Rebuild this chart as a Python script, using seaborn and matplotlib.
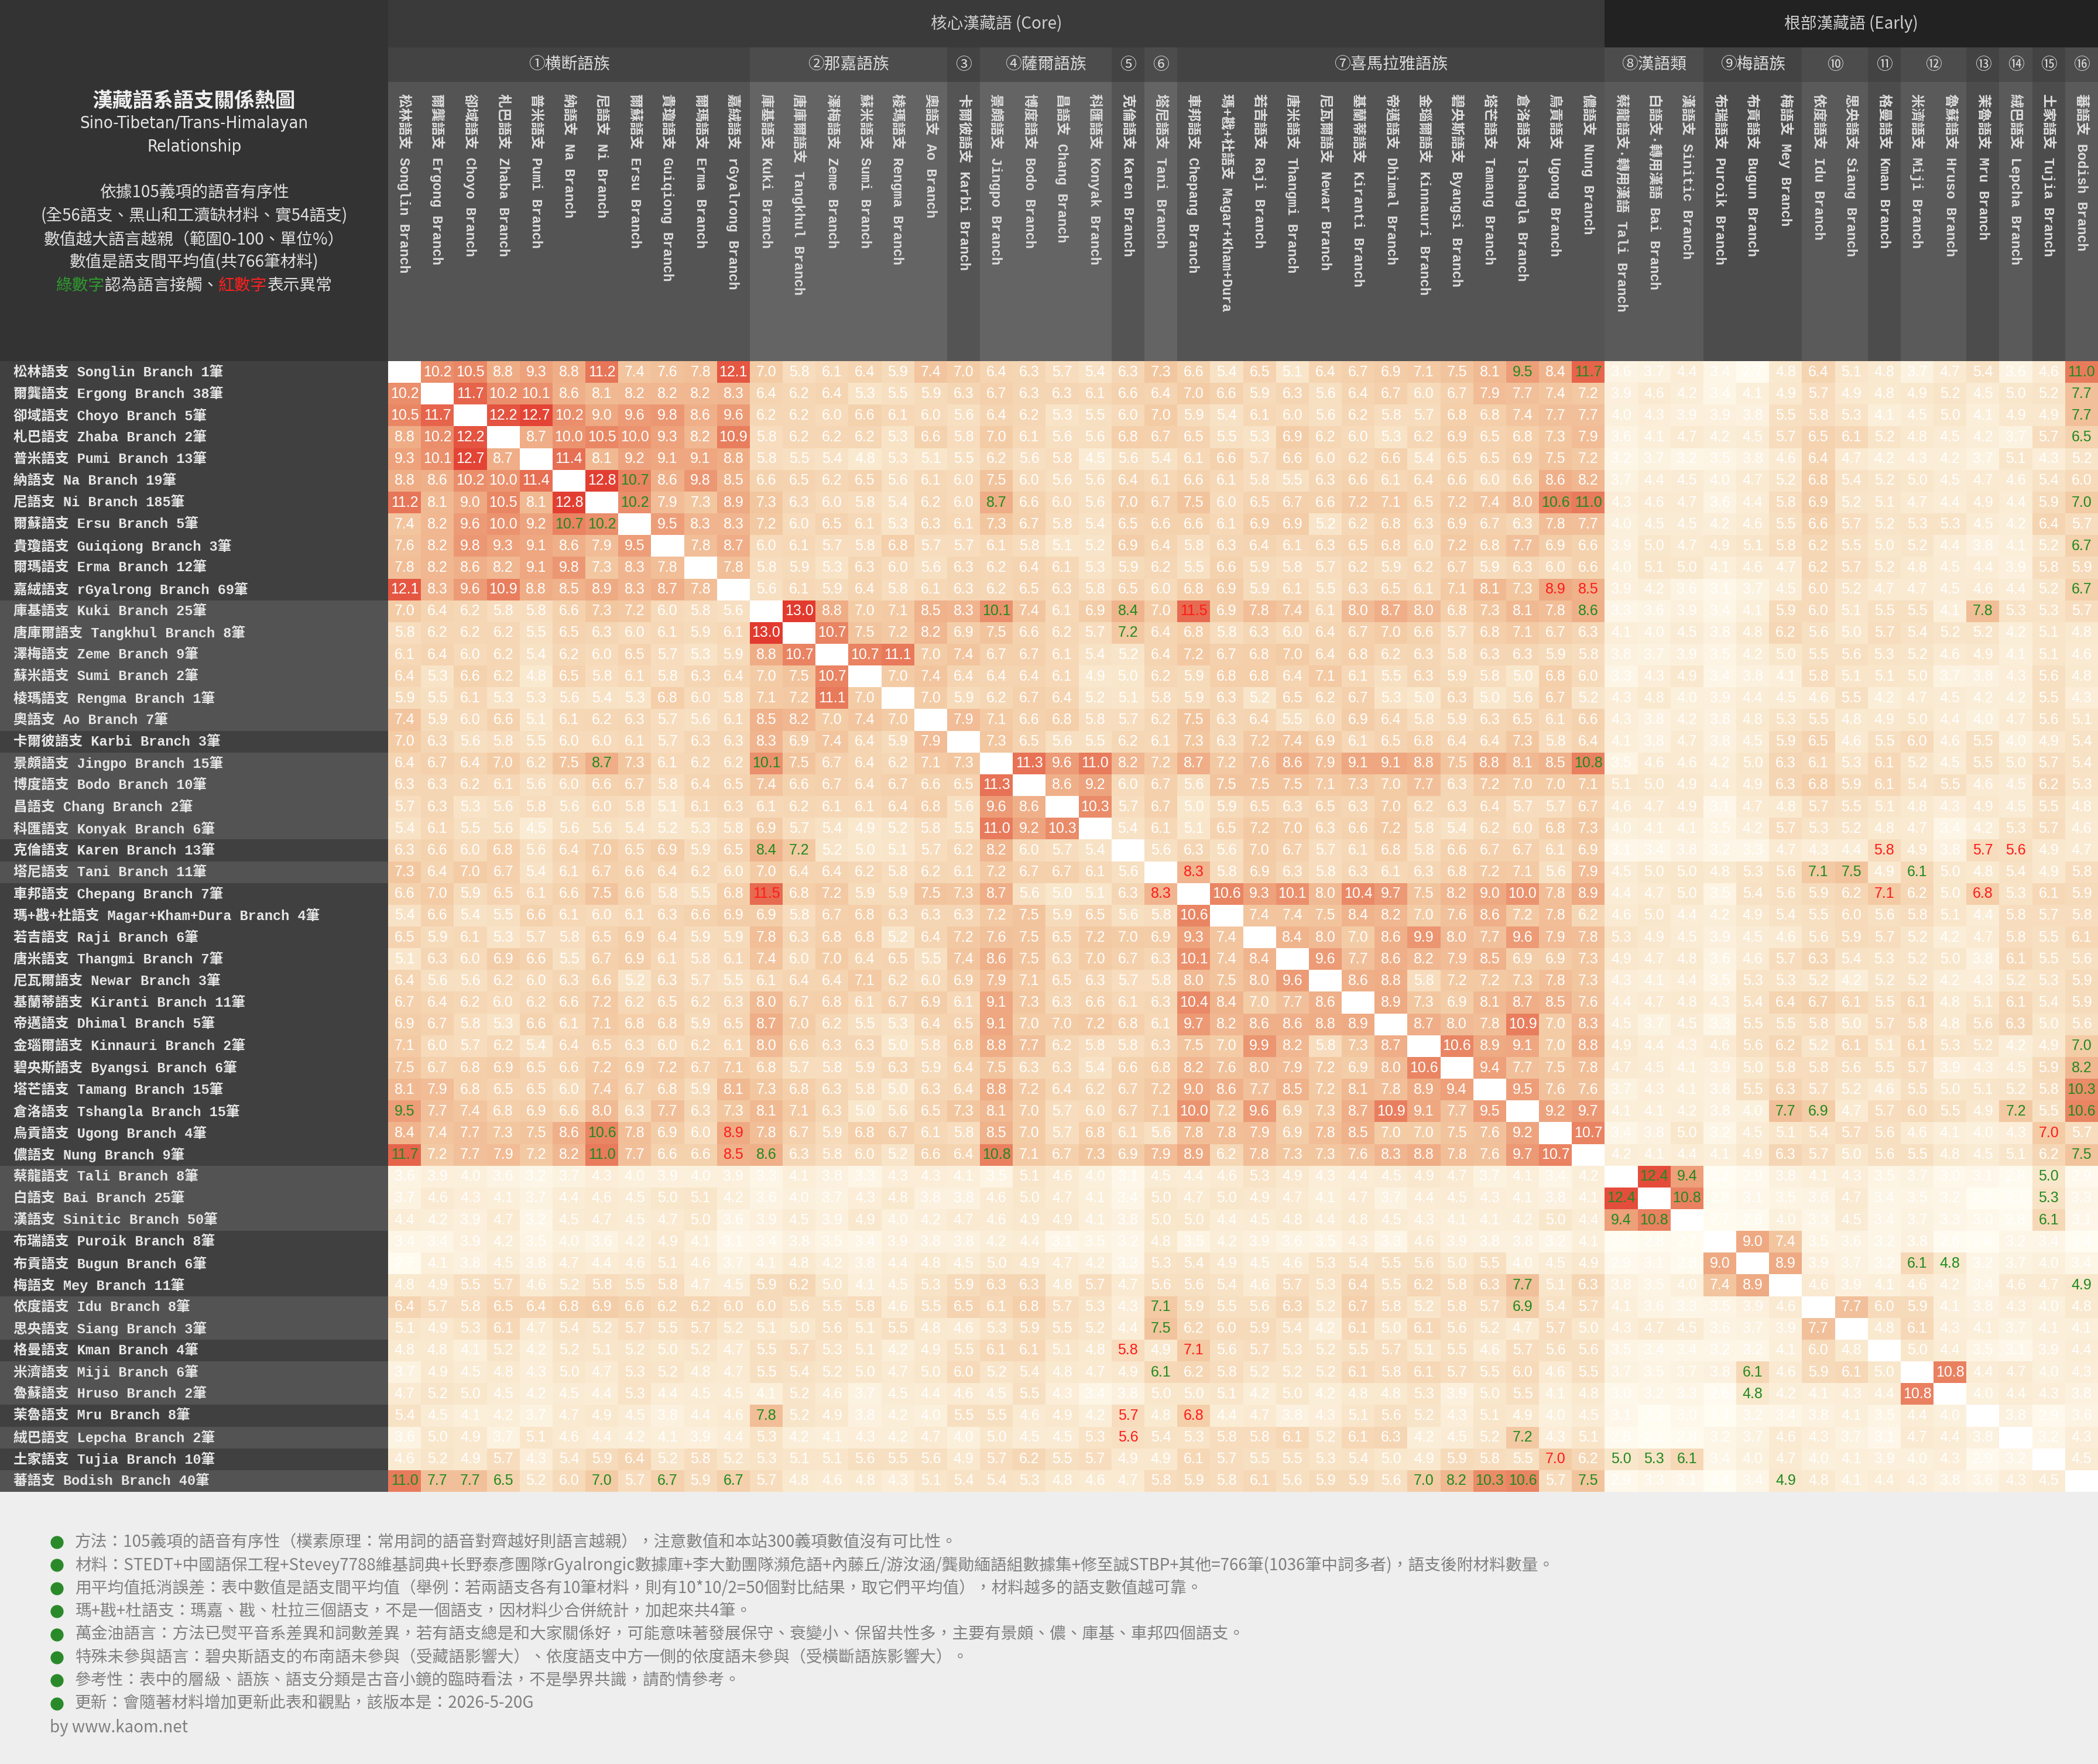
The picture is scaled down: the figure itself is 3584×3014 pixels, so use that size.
import numpy as np
import matplotlib
matplotlib.use("Agg")
import matplotlib.pyplot as plt
from matplotlib.colors import LinearSegmentedColormap
from matplotlib.patches import Rectangle
import seaborn as sns

# ---- data -------------------------------------------------------------
branch_zh = ['松林語支', '爾龔語支', '卻域語支', '札巴語支', '普米語支', '納語支', '尼語支',
             '爾蘇語支', '貴瓊語支', '爾瑪語支', '嘉絨語支',
             '庫基語支', '唐庫爾語支', '澤梅語支', '蘇米語支', '棱瑪語支', '奧語支',
             '卡爾彼語支',
             '景頗語支', '博度語支', '昌語支', '科匯語支',
             '克倫語支', '塔尼語支',
             '車邦語支', '瑪+戡+杜語支', '若吉語支', '唐米語支', '尼瓦爾語支', '基蘭蒂語支',
             '帝邁語支', '金瑙爾語支', '碧央斯語支', '塔芒語支', '倉洛語支', '烏貢語支', '儂語支',
             '蔡龍語支', '白語支', '漢語支',
             '布瑞語支', '布貢語支', '梅語支',
             '依度語支', '思央語支', '格曼語支', '米濟語支', '魯蘇語支', '茉魯語支',
             '絨巴語支', '土家語支', '蕃語支']
branch_en = ['Songlin', 'Ergong', 'Choyo', 'Zhaba', 'Pumi', 'Na', 'Ni', 'Ersu', 'Guiqiong',
             'Erma', 'rGyalrong', 'Kuki', 'Tangkhul', 'Zeme', 'Sumi', 'Rengma', 'Ao', 'Karbi',
             'Jingpo', 'Bodo', 'Chang', 'Konyak', 'Karen', 'Tani', 'Chepang', 'Magar+Kham+Dura',
             'Raji', 'Thangmi', 'Newar', 'Kiranti', 'Dhimal', 'Kinnauri', 'Byangsi', 'Tamang',
             'Tshangla', 'Ugong', 'Nung', 'Tali', 'Bai', 'Sinitic', 'Puroik', 'Bugun', 'Mey',
             'Idu', 'Siang', 'Kman', 'Miji', 'Hruso', 'Mru', 'Lepcha', 'Tujia', 'Bodish']
branch_n = [1, 38, 5, 2, 13, 19, 185, 5, 3, 12, 69, 25, 8, 9, 2, 1, 7, 3, 15, 10, 2, 6,
            13, 11, 7, 4, 6, 7, 3, 11, 5, 2, 6, 15, 15, 4, 9, 8, 25, 50, 8, 6, 11, 8, 3,
            4, 6, 2, 8, 2, 10, 40]

group_names = ['①横断語族', '②那嘉語族', '③', '④薩爾語族', '⑤', '⑥', '⑦喜馬拉雅語族',
               '⑧漢語類', '⑨梅語族', '⑩', '⑪', '⑫', '⑬', '⑭', '⑮', '⑯']
group_sizes = [11, 6, 1, 4, 1, 1, 13, 3, 3, 2, 1, 2, 1, 1, 1, 1]
layer_names = ['核心漢藏語 (Core)', '根部漢藏語 (Early)']
layer_sizes = [37, 15]

# upper triangle of the symmetric matrix, row i holds columns i+1 .. 52
upper = [
    "10.2 10.5 8.8 9.3 8.8 11.2 7.4 7.6 7.8 12.1 7.0 5.8 6.1 6.4 5.9 7.4 "
    "7.0 6.4 6.3 5.7 5.4 6.3 7.3 6.6 5.4 6.5 5.1 6.4 6.7 6.9 7.1 7.5 8.1 9.5 "
    "8.4 11.7 3.6 3.7 4.4 3.4 2.7 4.8 6.4 5.1 4.8 3.7 4.7 5.4 3.6 4.6 11.0",
    "11.7 10.2 10.1 8.6 8.1 8.2 8.2 8.2 8.3 6.4 6.2 6.4 5.3 5.5 5.9 "
    "6.3 6.7 6.3 6.3 6.1 6.6 6.4 7.0 6.6 5.9 6.3 5.6 6.4 6.7 6.0 6.7 7.9 7.7 "
    "7.4 7.2 3.9 4.6 4.2 3.4 4.1 4.9 5.7 4.9 4.8 4.9 5.2 4.5 5.0 5.2 7.7",
    "12.2 12.7 10.2 9.0 9.6 9.8 8.6 9.6 6.2 6.2 6.0 6.6 6.1 6.0 "
    "5.6 6.4 6.2 5.3 5.5 6.0 7.0 5.9 5.4 6.1 6.0 5.6 6.2 5.8 5.7 6.8 6.8 7.4 "
    "7.7 7.7 4.0 4.3 3.9 3.9 3.8 5.5 5.8 5.3 4.1 4.5 5.0 4.1 4.9 4.9 7.7",
    "8.7 10.0 10.5 10.0 9.3 8.2 10.9 5.8 6.2 6.2 6.2 5.3 6.6 "
    "5.8 7.0 6.1 5.6 5.6 6.8 6.7 6.5 5.5 5.3 6.9 6.2 6.0 5.3 6.2 6.9 6.5 6.8 "
    "7.3 7.9 3.6 4.1 4.7 4.2 4.5 5.7 6.5 6.1 5.2 4.8 4.5 4.2 3.7 5.7 6.5",
    "11.4 8.1 9.2 9.1 9.1 8.8 5.8 5.5 5.4 4.8 5.3 5.1 "
    "5.5 6.2 5.6 5.8 4.5 5.6 5.4 6.1 6.6 5.7 6.6 6.0 6.2 6.6 5.4 6.5 6.5 6.9 "
    "7.5 7.2 3.2 3.7 3.2 3.5 3.8 4.6 6.4 4.7 4.2 4.3 4.2 3.7 5.1 4.3 5.2",
    "12.8 10.7 8.6 9.8 8.5 6.6 6.5 6.2 6.5 5.6 6.1 "
    "6.0 7.5 6.0 5.6 5.6 6.4 6.1 6.6 6.1 5.8 5.5 6.3 6.6 6.1 6.4 6.6 6.0 6.6 "
    "8.6 8.2 3.7 4.4 4.5 4.0 4.7 5.2 6.8 5.4 5.2 5.0 4.5 4.7 4.6 5.4 6.0",
    "10.2 7.9 7.3 8.9 7.3 6.3 6.0 5.8 5.4 6.2 "
    "6.0 8.7 6.6 6.0 5.6 7.0 6.7 7.5 6.0 6.5 6.7 6.6 7.2 7.1 6.5 7.2 7.4 8.0 "
    "10.6 11.0 4.3 4.6 4.7 3.6 4.4 5.8 6.9 5.2 5.1 4.7 4.4 4.9 4.4 5.9 7.0",
    "9.5 8.3 8.3 7.2 6.0 6.5 6.1 5.3 6.3 "
    "6.1 7.3 6.7 5.8 5.4 6.5 6.6 6.6 6.1 6.9 6.9 5.2 6.2 6.8 6.3 6.9 6.7 6.3 "
    "7.8 7.7 4.0 4.5 4.5 4.2 4.6 5.5 6.6 5.7 5.2 5.3 5.3 4.5 4.2 6.4 5.7",
    "7.8 8.7 6.0 6.1 5.7 5.8 6.8 5.7 "
    "5.7 6.1 5.8 5.1 5.2 6.9 6.4 5.8 6.3 6.4 6.1 6.3 6.5 6.8 6.0 7.2 6.8 7.7 "
    "6.9 6.6 3.9 5.0 4.7 4.9 5.1 5.8 6.2 5.5 5.0 5.2 4.4 3.8 4.1 5.2 6.7",
    "7.8 5.8 5.9 5.3 6.3 6.0 5.6 "
    "6.3 6.2 6.4 6.1 5.3 5.9 6.2 5.5 6.6 5.9 5.8 5.7 6.2 5.9 6.2 6.7 5.9 6.3 "
    "6.0 6.6 4.0 5.1 5.0 4.1 4.6 4.7 6.2 5.7 5.2 4.8 4.5 4.4 3.9 5.8 5.9",
    "5.6 6.1 5.9 6.4 5.8 6.1 "
    "6.3 6.2 6.5 6.3 5.8 6.5 6.0 6.8 6.9 5.9 6.1 5.5 6.3 6.5 6.1 7.1 8.1 7.3 "
    "8.9 8.5 3.9 4.2 3.6 3.1 3.7 4.5 6.0 5.2 4.7 4.7 4.5 4.6 4.4 5.2 6.7",
    "13.0 8.8 7.0 7.1 8.5 "
    "8.3 10.1 7.4 6.1 6.9 8.4 7.0 11.5 6.9 7.8 7.4 6.1 8.0 8.7 8.0 6.8 7.3 8.1 "
    "7.8 8.6 3.3 3.6 3.9 3.4 4.1 5.9 6.0 5.1 5.5 5.5 4.1 7.8 5.3 5.3 5.7",
    "10.7 7.5 7.2 8.2 "
    "6.9 7.5 6.6 6.2 5.7 7.2 6.4 6.8 5.8 6.3 6.0 6.4 6.7 7.0 6.6 5.7 6.8 7.1 "
    "6.7 6.3 4.1 4.0 4.5 3.8 4.8 6.2 5.6 5.0 5.7 5.4 5.2 5.2 4.2 5.1 4.8",
    "10.7 11.1 7.0 "
    "7.4 6.7 6.7 6.1 5.4 5.2 6.4 7.2 6.7 6.8 7.0 6.4 6.8 6.2 6.3 5.8 6.3 6.3 "
    "5.9 5.8 3.8 3.7 3.9 3.5 4.2 5.0 5.5 5.6 5.3 5.2 4.6 4.9 4.1 5.1 4.6",
    "7.0 7.4 "
    "6.4 6.4 6.4 6.1 4.9 5.0 6.2 5.9 6.8 6.8 6.4 7.1 6.1 5.5 6.3 5.9 5.8 5.0 "
    "6.8 6.0 3.3 4.3 4.9 3.4 3.8 4.1 5.8 5.1 5.1 5.0 3.7 3.8 4.3 5.6 4.8",
    "7.0 "
    "5.9 6.2 6.7 6.4 5.2 5.1 5.8 5.9 6.3 5.2 6.5 6.2 6.7 5.3 5.0 6.3 5.0 5.6 "
    "6.7 5.2 4.3 4.8 4.0 3.9 4.4 4.5 4.6 5.5 4.2 4.7 4.5 4.2 4.2 5.5 4.3",
    "7.9 7.1 6.6 6.8 5.8 5.7 6.2 7.5 6.3 6.4 5.5 6.0 6.9 6.4 5.8 5.9 6.3 6.5 "
    "6.1 6.6 4.3 3.8 4.2 3.8 4.8 5.3 5.5 4.8 4.9 5.0 4.4 4.0 4.7 5.6 5.1",
    "7.3 6.5 5.6 5.5 6.2 6.1 7.3 6.3 7.2 7.4 6.9 6.1 6.5 6.8 6.4 6.4 7.3 "
    "5.8 6.4 4.1 3.8 4.7 3.8 4.5 5.9 6.5 4.6 5.5 6.0 4.6 5.5 4.0 4.9 5.4",
    "11.3 9.6 11.0 8.2 7.2 8.7 7.2 7.6 8.6 7.9 9.1 9.1 8.8 7.5 8.8 8.1 "
    "8.5 10.8 3.5 4.6 4.6 4.2 5.0 6.3 6.1 5.3 6.1 5.2 4.5 5.5 5.0 5.7 5.4",
    "8.6 9.2 6.0 6.7 5.6 7.5 7.5 7.5 7.1 7.3 7.0 7.7 6.3 7.2 7.0 "
    "7.0 7.1 5.1 5.0 4.9 4.4 4.9 6.3 6.8 5.9 6.1 5.4 5.5 4.6 4.5 6.2 5.3",
    "10.3 5.7 6.7 5.0 5.9 6.5 6.3 6.5 6.3 7.0 6.2 6.3 6.4 5.7 "
    "5.7 6.7 4.6 4.7 4.9 3.1 4.7 4.8 5.7 5.5 5.1 4.8 4.3 4.9 4.5 5.5 4.8",
    "5.4 6.1 5.1 6.5 7.2 7.0 6.3 6.6 7.2 5.8 5.4 6.2 6.0 "
    "6.8 7.3 4.0 4.1 4.1 3.5 4.2 5.7 5.3 5.2 4.8 4.7 3.4 4.2 5.3 5.7 4.6",
    "5.6 6.3 5.6 7.0 6.7 5.7 6.1 6.8 5.8 6.6 6.7 6.7 "
    "6.1 6.9 3.1 3.4 3.8 3.2 3.3 4.7 4.3 4.4 5.8 4.9 3.8 5.7 5.6 4.9 4.7",
    "8.3 5.8 6.9 6.3 5.8 6.3 6.1 6.3 6.8 7.2 7.1 "
    "5.6 7.9 4.5 5.0 5.0 4.8 5.3 5.6 7.1 7.5 4.9 6.1 5.0 4.8 5.4 4.9 5.8",
    "10.6 9.3 10.1 8.0 10.4 9.7 7.5 8.2 9.0 10.0 "
    "7.8 8.9 4.4 4.7 5.0 3.5 5.4 5.6 5.9 6.2 7.1 6.2 5.0 6.8 5.3 6.1 5.9",
    "7.4 7.4 7.5 8.4 8.2 7.0 7.6 8.6 7.2 "
    "7.8 6.2 4.6 5.0 4.4 4.2 4.9 5.4 5.5 6.0 5.6 5.8 5.1 4.4 5.8 5.7 5.8",
    "8.4 8.0 7.0 8.6 9.9 8.0 7.7 9.6 "
    "7.9 7.8 5.3 4.9 4.5 3.9 4.5 4.6 5.6 5.9 5.7 5.2 4.2 4.7 5.8 5.5 6.1",
    "9.6 7.7 8.6 8.2 7.9 8.5 6.9 "
    "6.9 7.3 4.9 4.7 4.8 3.6 4.6 5.7 6.3 5.4 5.3 5.2 5.0 3.8 6.1 5.5 5.6",
    "8.6 8.8 5.8 7.2 7.2 7.3 "
    "7.8 7.3 4.3 4.1 4.4 3.5 5.3 5.3 5.2 4.2 5.2 5.2 4.2 4.3 5.2 5.3 5.9",
    "8.9 7.3 6.9 8.1 8.7 "
    "8.5 7.6 4.4 4.7 4.8 4.3 5.4 6.4 6.7 6.1 5.5 6.1 4.8 5.1 6.1 5.4 5.9",
    "8.7 8.0 7.8 10.9 "
    "7.0 8.3 4.5 3.7 4.5 3.3 5.5 5.5 5.8 5.0 5.7 5.8 4.8 5.6 6.3 5.0 5.6",
    "10.6 8.9 9.1 "
    "7.0 8.8 4.9 4.4 4.3 4.6 5.6 6.2 5.2 6.1 5.1 6.1 5.3 5.2 4.2 4.9 7.0",
    "9.4 7.7 "
    "7.5 7.8 4.7 4.5 4.1 3.9 5.0 5.8 5.8 5.6 5.5 5.7 3.9 4.3 4.5 5.9 8.2",
    "9.5 "
    "7.6 7.6 3.7 4.3 4.1 3.8 5.5 6.3 5.7 5.2 4.6 5.5 5.0 5.1 5.2 5.8 10.3",
    "9.2 9.7 4.1 4.1 4.2 3.8 4.0 7.7 6.9 4.7 5.7 6.0 5.5 4.9 7.2 5.5 10.6",
    "10.7 3.4 3.8 5.0 3.2 4.5 5.1 5.4 5.7 5.6 4.6 4.1 4.0 4.3 7.0 5.7",
    "4.2 4.1 4.4 4.1 4.9 6.3 5.7 5.0 5.6 5.5 4.8 4.5 5.1 6.2 7.5",
    "12.4 9.4 2.2 2.9 3.8 4.1 4.3 3.5 3.7 3.0 3.1 2.8 5.0 2.9",
    "10.8 2.8 3.1 3.5 3.6 4.7 3.4 3.5 3.2 2.2 2.1 5.3 3.3",
    "2.7 2.8 4.0 3.3 4.5 3.4 3.7 3.3 3.0 2.8 6.1 3.1",
    "9.0 7.4 3.5 3.6 3.2 3.8 2.6 2.4 3.2 3.4 2.4",
    "8.9 3.9 3.7 3.2 6.1 4.8 3.2 3.7 4.0 3.4",
    "4.6 3.9 4.1 4.6 4.2 3.4 4.6 4.7 4.9",
    "7.7 6.0 5.9 4.1 3.8 4.3 4.0 4.8",
    "4.8 6.1 4.3 4.1 3.7 4.1 4.1",
    "5.0 4.4 3.5 3.1 3.9 4.4",
    "10.8 4.4 4.7 4.0 4.3",
    "4.0 4.4 4.3 3.8",
    "3.8 2.9 3.6",
    "3.2 4.3",
    "4.5",
]

# cells written in green (contact) / red (anomaly), 1-based (row, col)
green_pairs = [(1, 35), (1, 37), (1, 52), (2, 52), (3, 52), (4, 52), (6, 8), (7, 8),
               (7, 19), (7, 36), (7, 37), (7, 52), (9, 52), (11, 52), (12, 19), (12, 23),
               (12, 37), (12, 49), (13, 23), (19, 37), (24, 44), (24, 45), (24, 47),
               (32, 52), (33, 52), (34, 52), (35, 43), (35, 44), (35, 50), (35, 52),
               (37, 52), (38, 39), (38, 40), (38, 51), (39, 40), (39, 51), (40, 51),
               (42, 47), (42, 48), (43, 52)]
red_pairs = [(11, 36), (11, 37), (12, 25), (23, 46), (23, 49), (23, 50), (24, 25),
             (25, 46), (25, 49), (36, 51)]

notes = [
    '方法：105義項的語音有序性（樸素原理：常用詞的語音對齊越好則語言越親），注意數值和本站300義項數值沒有可比性。',
    '材料：STEDT+中國語保工程+Stevey7788維基詞典+长野泰彥團隊rGyalrongic數據庫+李大勤團隊瀕危語+內藤丘/游汝涵/龔勛緬語組數據集+修至誠STBP+其他=766筆(1036筆中詞多者)，語支後附材料數量。',
    '用平均值抵消誤差：表中數值是語支間平均值（舉例：若兩語支各有10筆材料，則有10*10/2=50個對比結果，取它們平均值），材料越多的語支數值越可靠。',
    '瑪+戡+杜語支：瑪嘉、戡、杜拉三個語支，不是一個語支，因材料少合併統計，加起來共4筆。',
    '萬金油語言：方法已熨平音系差異和詞數差異，若有語支總是和大家關係好，可能意味著發展保守、衰變小、保留共性多，主要有景頗、儂、庫基、車邦四個語支。',
    '特殊未參與語言：碧央斯語支的布南語未參與（受藏語影響大）、依度語支中方一側的依度語未參與（受橫斷語族影響大）。',
    '參考性：表中的層級、語族、語支分類是古音小鏡的臨時看法，不是學界共識，請酌情參考。',
    '更新：會隨著材料增加更新此表和觀點，該版本是：2026-5-20G',
]

# ---- build matrix -----------------------------------------------------
n = len(branch_en)
mat = np.full((n, n), np.nan)
for i, row in enumerate(upper):
    vals = [float(v) for v in row.split()]
    if len(vals) != n - 1 - i:
        print('row', i + 1, 'has', len(vals), 'values, expected', n - 1 - i)
        vals = (vals + [np.nan] * n)[:n - 1 - i]
    mat[i, i + 1:] = vals
    mat[i + 1:, i] = vals

annot = np.array([['' if np.isnan(v) else f'{v:.1f}' for v in r] for r in mat])
row_labels = [f'{z} {e} Branch {c}筆' for z, e, c in zip(branch_zh, branch_en, branch_n)]
col_labels = []
for z, e in zip(branch_zh, branch_en):
    if e in ('Tali', 'Bai'):
        col_labels.append(f'{z}·轉用漢語 {e} Branch')
    elif '+' in e:
        col_labels.append(f'{z} {e}')
    else:
        col_labels.append(f'{z} {e} Branch')

text_color = np.full((n, n), 'white', dtype=object)
for r, c in green_pairs:
    text_color[r - 1, c - 1] = text_color[c - 1, r - 1] = '#1f8a1f'
for r, c in red_pairs:
    text_color[r - 1, c - 1] = text_color[c - 1, r - 1] = '#ff1a1a'

# ---- layout (pixels) ---------------------------------------------------
W, H = 3584, 3014
X0, Y0, Y1 = 663, 617, 2549
CW = (W - X0) / n
RH = (Y1 - Y0) / n

label_font = ['Liberation Mono', 'Noto Sans CJK TC']
cjk_font = ['Noto Sans CJK TC', 'DejaVu Sans']

fig = plt.figure(figsize=(W / 100, H / 100), dpi=100, facecolor='#eeeeee')

bg = fig.add_axes([0, 0, 1, 1], zorder=0)
bg.set_xlim(0, W)
bg.set_ylim(H, 0)
bg.axis('off')

# left title panel
bg.add_patch(Rectangle((0, 0), X0, Y0, color='#333333', lw=0))
# layer band
x = X0
for name, size, col in zip(layer_names, layer_sizes, ['#3a3a3a', '#222222']):
    bg.add_patch(Rectangle((x, 0), size * CW, 81, color=col, lw=0))
    bg.text(x + size * CW / 2, 41, name, ha='center', va='center', fontsize=20,
            color='#cfcfcf', family=cjk_font)
    x += size * CW

# group bands, column label areas and row label backgrounds
start = 0
for k, (name, size) in enumerate(zip(group_names, group_sizes)):
    early = start >= layer_sizes[0]
    band_c = '#434343' if k % 2 == 0 else '#4c4c4c'
    if early:
        lab_c = '#4c4c4c' if k % 2 == 0 else '#5a5a5a'
    else:
        lab_c = '#545454' if k % 2 == 0 else '#646464'
    row_c = '#404040' if k % 2 == 0 else '#535353'
    gx = X0 + start * CW
    bg.add_patch(Rectangle((gx, 81), size * CW, 59, color=band_c, lw=0))
    bg.add_patch(Rectangle((gx, 140), size * CW, Y0 - 140, color=lab_c, lw=0))
    bg.add_patch(Rectangle((0, Y0 + start * RH), X0, size * RH, color=row_c, lw=0))
    bg.text(gx + size * CW / 2, 111, name, ha='center', va='center', fontsize=20,
            color='#dcdcdc', family=cjk_font)
    start += size

# column labels, written top to bottom
for j, lab in enumerate(col_labels):
    bg.text(X0 + (j + 0.5) * CW, 160, lab, rotation=-90, ha='center', va='top',
            fontsize=17, color='#dddddd', family=label_font, fontweight='bold')

# title block
bg.text(X0 / 2, 173, '漢藏語系語支關係熱圖', ha='center', va='center', fontsize=25,
        color='#eeeeee', family=cjk_font, fontweight='bold')
bg.text(X0 / 2, 211, 'Sino-Tibetan/Trans-Himalayan', ha='center', va='center',
        fontsize=21, color='#e6e6e6', family='DejaVu Sans', fontstretch='condensed')
bg.text(X0 / 2, 251, 'Relationship', ha='center', va='center', fontsize=21,
        color='#e6e6e6', family='DejaVu Sans', fontstretch='condensed')
info = ['依據105義項的語音有序性', '(全56語支、黑山和工瀆缺材料、實54語支)',
        '數值越大語言越親（範圍0-100、單位%）', '數值是語支間平均值(共766筆材料)']
for k, line in enumerate(info):
    bg.text(X0 / 2, 330 + k * 39.5, line, ha='center', va='center', fontsize=20,
            color='#e0e0e0', family=cjk_font)
pieces = [('綠數字', '#2e9a2e'), ('認為語言接觸、', '#e0e0e0'), ('紅數字', '#ff2020'),
          ('表示異常', '#e0e0e0')]
char_w = 20 * 100 / 72
total = sum(len(p) for p, _ in pieces) * char_w
px = X0 / 2 - total / 2
for s, c in pieces:
    bg.text(px, 488, s, ha='left', va='center', fontsize=20, color=c, family=cjk_font)
    px += len(s) * char_w

# notes under the matrix
for k, line in enumerate(notes):
    y = 2635 + k * 39.4
    bg.plot(97, y, 'o', ms=16, color='#2a8a2a', mec='none')
    bg.text(128, y, line, ha='left', va='center', fontsize=20, color='#808080',
            family=cjk_font)
bg.text(85, 2952, 'by www.kaom.net', ha='left', va='center', fontsize=20,
        color='#808080', family=cjk_font)

# ---- heatmap -----------------------------------------------------------
cmap = LinearSegmentedColormap.from_list(
    'kaom', [(0.0, '#fffcf2'), (0.238, '#f9e7cc'), (0.429, '#f3cca6'),
             (0.619, '#eea982'), (0.81, '#e87c5c'), (1.0, '#e23a2e')])

ax = fig.add_axes([X0 / W, 1 - Y1 / H, (W - X0) / W, (Y1 - Y0) / H], zorder=1)
ax.set_facecolor('white')
sns.heatmap(mat, ax=ax, mask=np.isnan(mat), cmap=cmap, vmin=2.5, vmax=13, cbar=False,
            annot=annot, fmt='', linewidths=0, xticklabels=False,
            yticklabels=row_labels,
            annot_kws={'fontsize': 18, 'color': 'white', 'family': 'Liberation Sans'})

for t in ax.texts:
    cx, cy = t.get_position()
    t.set_color(text_color[int(cy), int(cx)])

ax.tick_params(axis='y', length=0, pad=(X0 - 23) * 0.72)
for t in ax.get_yticklabels():
    t.set_rotation(0)
    t.set_ha('left')
    t.set_fontsize(17)
    t.set_family(label_font)
    t.set_fontweight('bold')
    t.set_color('#e6e6e6')
ax.set_xlabel('')
ax.set_ylabel('')

fig.savefig('out.png', dpi=100, facecolor=fig.get_facecolor())
